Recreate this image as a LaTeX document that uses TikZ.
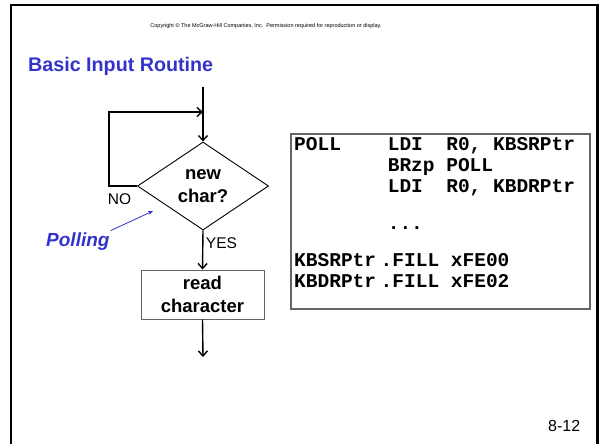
\documentclass[tikz,border=0pt]{standalone}
\usepackage{fontspec}
\setmainfont{Liberation Sans}
\newfontfamily\codefont{Liberation Mono}
\usetikzlibrary{arrows.meta,shapes.geometric}
\definecolor{titleblue}{RGB}{51,51,204}
\definecolor{boxgray}{RGB}{100,100,100}
\begin{document}
\begin{tikzpicture}[x=1pt,y=-1pt,
  frame/.style={line width=2.6pt,line join=miter},
  arr/.style={line width=1.4pt,-{Straight Barb[length=5pt,width=9pt]}},
  looparr/.style={line width=2.2pt,-{Straight Barb[length=5pt,width=9pt,line width=1.4pt]}},
  parr/.style={titleblue,line width=0.8pt,-{Stealth[length=5pt,width=4pt]}},
  lbl/.style={inner sep=0pt,font=\fontsize{15.5}{18}\selectfont},
  boldtxt/.style={inner sep=0pt,align=center,font=\fontsize{18.5}{22.5}\selectfont\bfseries},
  code/.style={inner sep=0pt,anchor=base west,font=\codefont\fontsize{19.5}{21}\selectfont\bfseries}]
\useasboundingbox (0,0) rectangle (600,444);
% slide frame
\draw[frame] (11,444) -- (11,5) -- (597.5,5) -- (597.5,444);
% header
\node[inner sep=0pt,font=\fontsize{5.5}{6.5}\selectfont] (copy) at (266,26)
  {Copyright \textcopyright{} The McGraw-Hill Companies, Inc.\ \ Permission required for reproduction or display.};
\node[inner sep=0pt,anchor=base west,text=titleblue,font=\fontsize{19.7}{23}\selectfont\bfseries] (title) at (28,71) {Basic Input Routine};
% flowchart
\coordinate (start) at (203,87);
\coordinate (join) at (203,112);
\node[diamond,draw,line width=0.9pt,minimum width=131pt,minimum height=88pt,inner sep=0pt,
  boldtxt] (dec) at (203,186) {new\\char?};
\node[draw=boxgray,line width=1pt,minimum width=123pt,minimum height=49pt,inner sep=0pt,
  boldtxt] (read) at (202.5,294.5) {read\\character};
\coordinate (finish) at (203,357);
\draw[arr] (start) -- (dec.north);
\draw[looparr] (dec.west) -- (109,186) |- (join);
\draw[arr] (dec.south) -- (read.north);
\draw[arr] (read.south) -- (finish);
\node[lbl] (no) at (119.5,199) {NO};
\node[lbl] (yes) at (221.5,243) {YES};
\node[inner sep=0pt,anchor=base west,text=titleblue,font=\fontsize{19}{22}\selectfont\bfseries\itshape] (poll) at (46,246.5) {Polling};
\coordinate (ptip) at (153,211);
\draw[parr] ([shift={(1,-11)}]poll.east) -- (ptip);
% code box
\node[draw=boxgray,line width=1.3pt,minimum width=299pt,minimum height=175pt,inner sep=0pt] (codebox) at (440.5,221.5) {};
\node[code] (c1) at (294,150.5) {POLL~~~~LDI~~R0,~KBSRPtr};
\node[code] (c2) at (387.6,171.5) {BRzp~POLL};
\node[code] (c3) at (387.6,192.5) {LDI~~R0,~KBDRPtr};
\node[code] (c4) at (387.6,229.5) {...};
\node[code] (c5a) at (294,266.5) {KBSRPtr};
\node[code] (c5b) at (380.5,266.5) {.FILL~xFE00};
\node[code] (c6a) at (294,287) {KBDRPtr};
\node[code] (c6b) at (380.5,287) {.FILL~xFE02};
% page number
\node[inner sep=0pt,anchor=base west,font=\fontsize{16}{19}\selectfont] (pg) at (548,431.5) {8-12};
\end{tikzpicture}
\end{document}
